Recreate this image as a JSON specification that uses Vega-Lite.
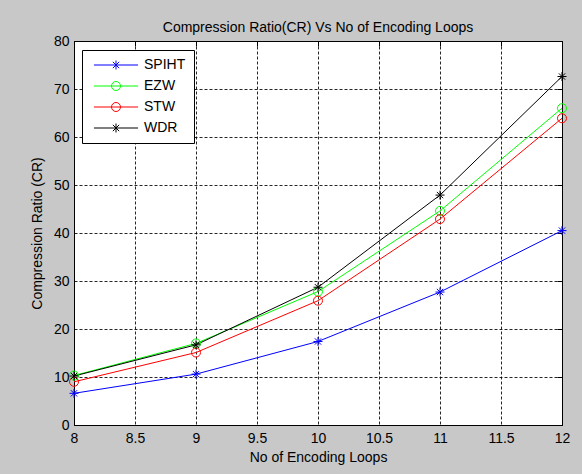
{
  "$schema": "https://vega.github.io/schema/vega-lite/v6.json",
  "width": 488,
  "height": 384,
  "autosize": {"type": "none"},
  "padding": {"left": 74, "top": 41, "right": 20, "bottom": 49},
  "background": "#c8c8c8",
  "title": {"text": "Compression Ratio(CR) Vs No of Encoding Loops", "fontSize": 14, "font": "Liberation Sans", "fontWeight": "normal", "color": "#000000", "offset": -1},
  "config": {
    "view": {"stroke": "#000000", "strokeWidth": 1, "fill": "#ffffff"},
    "font": "Liberation Sans"
  },
  "data": {"values": [
    {"loops": 8, "series": "SPIHT", "cr": 6.6},
    {"loops": 9, "series": "SPIHT", "cr": 10.6},
    {"loops": 10, "series": "SPIHT", "cr": 17.4},
    {"loops": 11, "series": "SPIHT", "cr": 27.7},
    {"loops": 12, "series": "SPIHT", "cr": 40.5},
    {"loops": 8, "series": "EZW", "cr": 10.3},
    {"loops": 9, "series": "EZW", "cr": 17.0},
    {"loops": 10, "series": "EZW", "cr": 27.8},
    {"loops": 11, "series": "EZW", "cr": 44.6},
    {"loops": 12, "series": "EZW", "cr": 66.0},
    {"loops": 8, "series": "STW", "cr": 9.0},
    {"loops": 9, "series": "STW", "cr": 15.1},
    {"loops": 10, "series": "STW", "cr": 25.9},
    {"loops": 11, "series": "STW", "cr": 42.9},
    {"loops": 12, "series": "STW", "cr": 63.9},
    {"loops": 8, "series": "WDR", "cr": 10.2},
    {"loops": 9, "series": "WDR", "cr": 16.7},
    {"loops": 10, "series": "WDR", "cr": 28.7},
    {"loops": 11, "series": "WDR", "cr": 47.9},
    {"loops": 12, "series": "WDR", "cr": 72.6}
  ]},
  "resolve": {
    "scale": {"shape": "independent"},
    "legend": {"shape": "independent", "color": "independent"},
    "axis": {"x": "independent", "y": "independent"}
  },
  "encoding": {
    "x": {
      "field": "loops", "type": "quantitative",
      "scale": {"domain": [8, 12], "nice": false, "zero": false},
      "axis": {
        "values": [8, 8.5, 9, 9.5, 10, 10.5, 11, 11.5, 12],
        "format": ".1~f",
        "title": "No of Encoding Loops",
        "grid": true, "gridColor": "#000000", "gridDash": [3, 2], "gridWidth": 1, "gridOpacity": 0.85,
        "domainColor": "#000000", "ticks": false,
        "labelFont": "Liberation Sans", "labelFontSize": 14, "labelColor": "#000000", "labelPadding": 6, "labelFlush": false,
        "titleFont": "Liberation Sans", "titleFontSize": 14, "titleFontWeight": "normal", "titleColor": "#000000", "titlePadding": 5
      }
    },
    "y": {
      "field": "cr", "type": "quantitative",
      "scale": {"domain": [0, 80], "nice": false},
      "axis": {
        "values": [0, 10, 20, 30, 40, 50, 60, 70, 80],
        "title": "Compression Ratio (CR)",
        "grid": true, "gridColor": "#000000", "gridDash": [3, 2], "gridWidth": 1, "gridOpacity": 0.85,
        "domainColor": "#000000", "ticks": false,
        "labelFont": "Liberation Sans", "labelFontSize": 14, "labelColor": "#000000", "labelPadding": 5, "labelFlush": false,
        "titleFont": "Liberation Sans", "titleFontSize": 14, "titleFontWeight": "normal", "titleColor": "#000000", "titlePadding": 9
      }
    }
  },
  "layer": [
    {
      "mark": {"type": "line", "strokeWidth": 1},
      "encoding": {
        "color": {"field": "series", "type": "nominal",
          "scale": {"domain": ["SPIHT", "EZW", "STW", "WDR"], "range": ["#0000ff", "#00ff00", "#ff0000", "#000000"]},
          "legend": null}
      }
    },
    {
      "mark": {"type": "point", "filled": false, "strokeWidth": 1, "opacity": 1},
      "encoding": {
        "x": {"field": "loops", "type": "quantitative", "axis": null},
        "y": {"field": "cr", "type": "quantitative", "axis": null},
        "color": {"field": "series", "type": "nominal",
          "scale": {"domain": ["SPIHT", "EZW", "STW", "WDR"], "range": ["#0000ff", "#00ff00", "#ff0000", "#000000"]},
          "legend": null},
        "shape": {"field": "series", "type": "nominal",
          "scale": {"domain": ["SPIHT", "EZW", "STW", "WDR"], "range": [
            "M-1,0L1,0M0,-1L0,1M-0.7,-0.7L0.7,0.7M-0.7,0.7L0.7,-0.7",
            "M1,0A1,1,0,1,1,-1,0A1,1,0,1,1,1,0Z",
            "M1,0A1,1,0,1,1,-1,0A1,1,0,1,1,1,0Z",
            "M-1,0L1,0M0,-1L0,1M-0.7,-0.7L0.7,0.7M-0.7,0.7L0.7,-0.7"
          ]},
          "legend": null},
        "size": {"value": 81}
      }
    },
    {
      "mark": {"type": "point", "filled": false, "strokeWidth": 1, "opacity": 0},
      "encoding": {
        "x": {"field": "loops", "type": "quantitative",
          "axis": {"orient": "top", "values": [8, 8.5, 9, 9.5, 10, 10.5, 11, 11.5, 12], "labels": false, "grid": false, "domain": false, "title": null, "ticks": true, "tickSize": -5, "tickColor": "#000000", "tickWidth": 1}},
        "y": {"field": "cr", "type": "quantitative",
          "axis": {"orient": "right", "values": [0, 10, 20, 30, 40, 50, 60, 70, 80], "labels": false, "grid": false, "domain": false, "title": null, "ticks": true, "tickSize": -5, "tickColor": "#000000", "tickWidth": 1}},
        "color": {"field": "series", "type": "nominal",
          "scale": {"domain": ["SPIHT", "EZW", "STW", "WDR"], "range": ["#0000ff", "#00ff00", "#ff0000", "#000000"]},
          "legend": {
            "title": null, "orient": "none", "legendX": 8, "legendY": 9,
            "padding": 8, "strokeColor": "#000000", "fillColor": "#ffffff", "cornerRadius": 0,
            "labelFont": "Liberation Sans", "labelFontSize": 14, "labelColor": "#000000",
            "symbolOpacity": 1, "symbolStrokeWidth": 1, "symbolSize": 81,
            "symbolOffset": 19, "labelOffset": 21, "rowPadding": 7
          }},
        "shape": {"field": "series", "type": "nominal",
          "scale": {"domain": ["SPIHT", "EZW", "STW", "WDR"], "range": [
            "M-4.9,0L4.9,0M0,-1L0,1M-0.7,-0.7L0.7,0.7M-0.7,0.7L0.7,-0.7",
            "M-4.9,0L4.9,0M1,0A1,1,0,1,1,-1,0A1,1,0,1,1,1,0",
            "M-4.9,0L4.9,0M1,0A1,1,0,1,1,-1,0A1,1,0,1,1,1,0",
            "M-4.9,0L4.9,0M0,-1L0,1M-0.7,-0.7L0.7,0.7M-0.7,0.7L0.7,-0.7"
          ]},
          "legend": {
            "title": null, "orient": "none", "legendX": 8, "legendY": 9,
            "padding": 8, "strokeColor": "#000000", "fillColor": "#ffffff", "cornerRadius": 0,
            "labelFont": "Liberation Sans", "labelFontSize": 14, "labelColor": "#000000",
            "symbolOpacity": 1, "symbolStrokeWidth": 1, "symbolSize": 81,
            "symbolOffset": 19, "labelOffset": 21, "rowPadding": 7
          }},
        "size": {"value": 81}
      }
    }
  ]
}
